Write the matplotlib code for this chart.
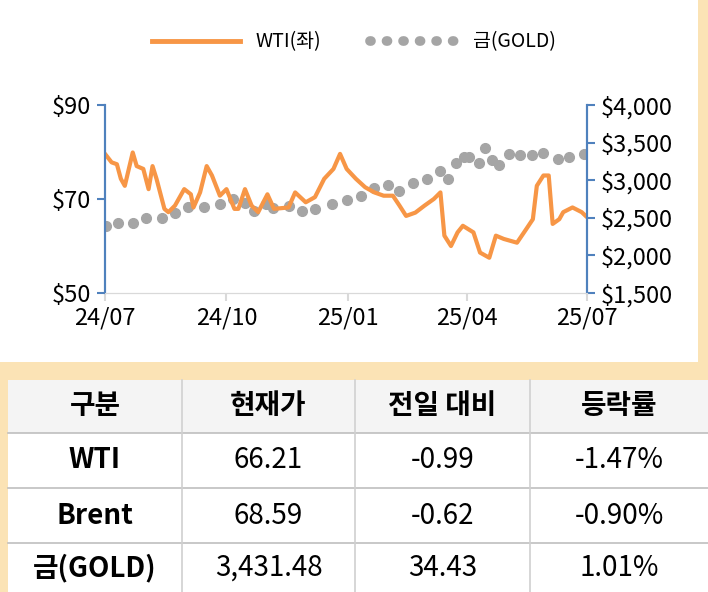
import matplotlib
matplotlib.use('Agg')
import matplotlib.pyplot as plt
from matplotlib.patches import Rectangle
from matplotlib.lines import Line2D
import pandas as pd

plt.rcParams['font.family'] = ['Noto Sans CJK KR', 'Noto Sans CJK JP', 'Noto Sans CJK SC', 'DejaVu Sans']

start = pd.Timestamp('2024-07-01')

wti_day = [0, 5, 9, 12, 15, 21, 24, 29, 33, 36, 39, 45, 48, 53, 60, 65, 67, 72, 77, 81,
           87, 92, 98, 101, 106, 111, 116, 123, 128, 139, 144, 152, 159, 166, 173, 178, 183, 190, 197, 204,
           211, 218, 223, 228, 235, 242, 249, 254, 257, 262, 267, 271, 279, 284, 291, 296, 302, 312, 319, 324,
           327, 332, 336, 339, 344, 347, 354, 361, 364]
wti = [79.6, 77.8, 77.4, 74.3, 72.8, 79.9, 77, 76.4, 72.1, 77, 74.3, 67.9, 67.2, 68.6, 72.1, 71, 68.2, 71.4, 77, 75,
       70.7, 72.1, 67.9, 67.9, 72.1, 68.6, 67.2, 71, 67.9, 68.2, 71.4, 69.3, 70.4, 74.3, 76.4, 79.6, 76.4, 74.3, 72.5, 71.4,
       70.7, 70.7, 68.6, 66.4, 67.1, 68.6, 70, 71.4, 62.2, 60, 62.9, 64.3, 62.9, 58.6, 57.5, 62.2, 61.5, 60.7, 63.6, 65.7,
       72.8, 75, 75, 64.7, 65.7, 67.2, 68.2, 67.2, 66.4]

gold_day = [1, 10, 21, 31, 43, 53, 63, 75, 87, 97, 106, 113, 122, 127, 139, 149, 159, 172, 183, 194,
            204, 214, 223, 233, 244, 254, 260, 266, 272, 276, 283, 288, 293, 298, 306, 314, 323, 332, 343, 351, 363]
gold = [2390, 2434, 2434, 2500, 2500, 2568, 2648, 2648, 2679, 2746, 2701, 2590, 2679, 2634, 2657, 2590, 2612, 2679, 2737, 2790,
        2901, 2932, 2857, 2959, 3012, 3124, 3021, 3226, 3315, 3302, 3235, 3422, 3270, 3199, 3346, 3333, 3333, 3368, 3279, 3302, 3346]

x_ticks = ['2024-07-01', '2024-10-01', '2025-01-01', '2025-04-01', '2025-07-01']
x_labels = ['24/07', '24/10', '25/01', '25/04', '25/07']

table_header = ['구분', '현재가', '전일 대비', '등락률']
table_names = ['WTI', 'Brent', '금(GOLD)']
table_price = ['66.21', '68.59', '3,431.48']
table_chg = ['-0.99', '-0.62', '34.43']
table_pct = ['-1.47%', '-0.90%', '1.01%']

orange = '#F79646'
grey = '#A5A5A5'
blue = '#4F81BD'

fig = plt.figure(figsize=(7.08, 5.92), dpi=100)
fig.patch.set_facecolor('#FBE3B5')
fig.add_artist(Rectangle((0, 1 - 362/592), 698/708, 362/592, transform=fig.transFigure,
                         facecolor='white', edgecolor='none', zorder=0))

ax = fig.add_axes([105/708, 1 - 293/592, (587-105)/708, (293-105)/592])
ax.patch.set_alpha(0)
ax2 = ax.twinx()

wti_dates = [start + pd.Timedelta(days=d) for d in wti_day]
gold_dates = [start + pd.Timedelta(days=d) for d in gold_day]
ax2.plot(gold_dates, gold, linestyle='none', marker='o', ms=7, color=grey, zorder=1)
ax.set_zorder(2)
ax.plot(wti_dates, wti, color=orange, lw=3)

ax.set_ylim(50, 90)
ax.set_yticks([50, 70, 90])
ax.set_yticklabels(['$50', '$70', '$90'])
ax2.set_ylim(1500, 4000)
ax2.set_yticks(range(1500, 4001, 500))
ax2.set_yticklabels(['${:,}'.format(v) for v in range(1500, 4001, 500)])
tick_dates = [pd.Timestamp(t) for t in x_ticks]
ax.set_xlim(tick_dates[0], tick_dates[-1])
ax.set_xticks(tick_dates)
ax.set_xticklabels(x_labels)

for a in (ax, ax2):
    a.spines['top'].set_visible(False)
    a.spines['bottom'].set_color('#D9D9D9')
    a.spines['left'].set_color(blue)
    a.spines['right'].set_color(blue)
    a.spines['left'].set_linewidth(1.5)
    a.spines['right'].set_linewidth(1.5)
    a.tick_params(labelsize=17, length=6, width=1.5, colors=blue, labelcolor='black')
ax.tick_params(axis='x', colors='#D9D9D9', labelcolor='black', pad=4)
ax.tick_params(axis='y', pad=4)
ax2.tick_params(axis='y', pad=4)

handles = [Line2D([], [], color=orange, lw=3.5),
           Line2D([], [], color=grey, ls=(0, (0.1, 1.6)), lw=7, dash_capstyle='round')]
fig.legend(handles, ['WTI(좌)', '금(GOLD)'], loc='center', bbox_to_anchor=(0.5, 1 - 42/592),
           ncol=2, frameon=False, fontsize=14, handlelength=4.5, columnspacing=2.5)

# table
cols = [8, 182, 355, 530, 708]
rows = [380, 433, 488, 543, 592]
W, H = 708, 592
fig.add_artist(Rectangle((8/W, 1 - 592/H), 700/W, (592-380)/H, transform=fig.transFigure,
                         facecolor='white', edgecolor='none'))
fig.add_artist(Rectangle((8/W, 1 - 433/H), 700/W, 53/H, transform=fig.transFigure,
                         facecolor='#F4F4F4', edgecolor='none'))
for y in rows[1:-1]:
    fig.add_artist(Line2D([8/W, 1], [1 - y/H] * 2, transform=fig.transFigure, color='#BFBFBF', lw=1.2))
for x in cols[1:-1]:
    fig.add_artist(Line2D([x/W] * 2, [1 - 592/H, 1 - 380/H], transform=fig.transFigure, color='#D0D0D0', lw=1.2))

table_rows = [table_header] + [list(r) for r in zip(table_names, table_price, table_chg, table_pct)]
for i, row in enumerate(table_rows):
    yc = 1 - (rows[i] + rows[i+1]) / 2 / H
    for j, txt in enumerate(row):
        xc = (cols[j] + cols[j+1]) / 2 / W
        bold = (i == 0 or j == 0)
        fig.text(xc, yc, txt, ha='center', va='center', fontsize=20,
                 fontweight='bold' if bold else 'normal')

fig.savefig('out.png', dpi=100, facecolor=fig.get_facecolor())
